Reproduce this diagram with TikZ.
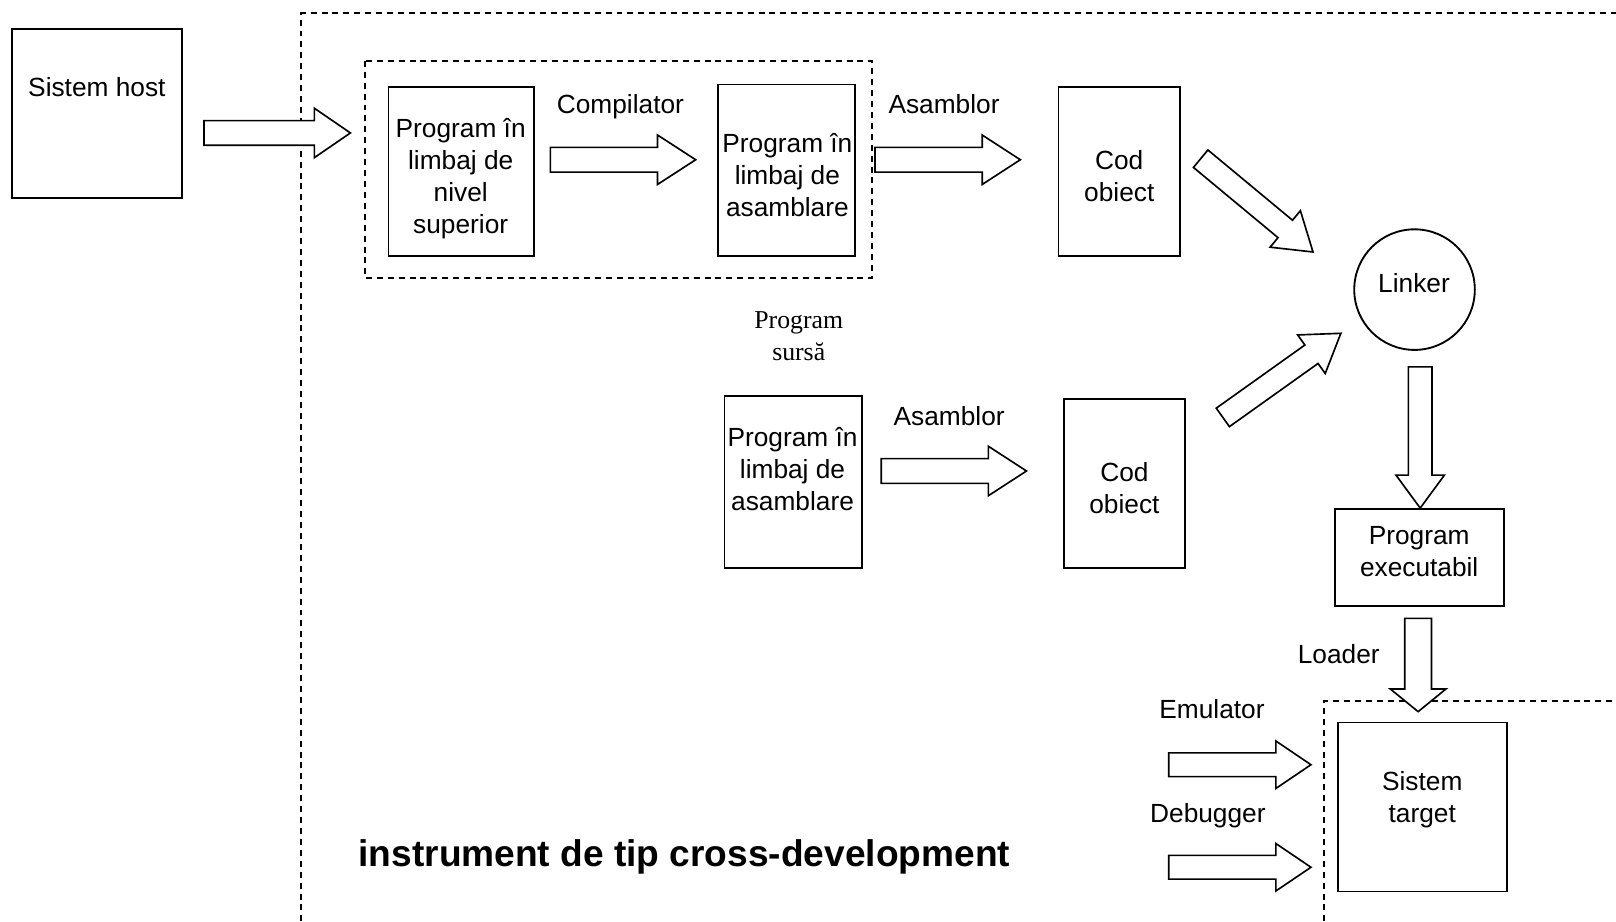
\documentclass[tikz,border=0pt]{standalone}
\usepackage{fontspec}
\setmainfont{Liberation Sans}
\newfontfamily\serifF{Liberation Serif}
\usetikzlibrary{calc}
\newcommand\barrow[5]{%
  \coordinate (hb) at ($(#2)!#5!(#1)$);
  \draw[blk] ($(#1)!#3!90:(#2)$) -- ($(hb)!#3!90:(#2)$) -- ($(hb)!#4!90:(#2)$) -- (#2)
    -- ($(hb)!#4!-90:(#2)$) -- ($(hb)!#3!-90:(#2)$) -- ($(#1)!#3!-90:(#2)$) -- cycle;
}
\tikzset{
  box/.style={draw, line width=1.8pt, inner sep=0pt},
  txt/.style={align=center, inner sep=0pt, font=\fontsize{25.5}{31}\selectfont},
  stxt/.style={align=center, inner sep=0pt, font=\serifF\fontsize{25}{31}\selectfont},
  blk/.style={draw, fill=white, line width=1.6pt, line join=miter},
  dsh/.style={line width=1.8pt, dash pattern=on 5.8pt off 4.8pt},
}
\begin{document}
\begin{tikzpicture}[x=1pt,y=-1pt]
\useasboundingbox (0,0) rectangle (1568,894);
% dashed frames
\draw[dsh] (292,894) -- (292,13) -- (1568,13);
\draw[dsh] (354,59) rectangle (846,270);
\draw[dsh] (1285,894) -- (1285,680) -- (1568,680);
% boxes
\node[box, minimum width=165pt, minimum height=164pt] (host) at (94.5,110) {};
\node[txt] (hostT) at (94,85) {Sistem host};
\node[box, minimum width=141pt, minimum height=164pt] (hl) at (447.5,166) {};
\node[txt] (hlT) at (447,173.5) {Program în\\limbaj de\\nivel\\superior};
\node[box, minimum width=133pt, minimum height=166pt] (asm1) at (763.5,165) {};
\node[txt] (asm1T) at (764,170) {Program în\\limbaj de\\asamblare};
\node[box, minimum width=118pt, minimum height=164pt] (cod1) at (1086,166) {};
\node[txt] (cod1T) at (1086,170.5) {Cod\\obiect};
\node[draw, circle, line width=1.8pt, minimum size=117pt, inner sep=0pt] (link) at (1372.5,281) {};
\node[txt] (linkT) at (1372,275) {Linker};
\node[stxt] (sursa) at (775,326.5) {Program\\sursă};
\node[box, minimum width=133pt, minimum height=167pt] (asm2) at (769.5,467.5) {};
\node[txt] (asm2T) at (769,455) {Program în\\limbaj de\\asamblare};
\node[box, minimum width=118pt, minimum height=164pt] (cod2) at (1091,469) {};
\node[txt] (cod2T) at (1091,473.5) {Cod\\obiect};
\node[box, minimum width=164pt, minimum height=94pt] (exe) at (1377,541) {};
\node[txt] (exeT) at (1377,535.5) {Program\\executabil};
\node[box, minimum width=164pt, minimum height=164pt] (tgt) at (1380,783) {};
\node[txt] (tgtT) at (1380,775.5) {Sistem\\target};
% labels
\node[txt] (lcomp) at (602,104) {Compilator};
\node[txt] (lasm1) at (916,101) {Asamblor};
\node[txt] (lasm2) at (921,404) {Asamblor};
\node[txt] (lload) at (1299,635) {Loader};
\node[txt] (lemu) at (1176,688) {Emulator};
\node[txt] (ldbg) at (1172,791) {Debugger};
\node[inner sep=0pt, font=\bfseries\fontsize{36}{40}\selectfont] (title) at (664,831) {instrument de tip cross-development};
% arrow end points
\coordinate (a0s) at (198,129);   \coordinate (a0t) at (340,129);
\coordinate (a1s) at (534,155);   \coordinate (a1t) at (675,155);
\coordinate (a2s) at (849,155);   \coordinate (a2t) at (990,155);
\coordinate (a3s) at (1165,154);  \coordinate (a3t) at (1274,244.5);
\coordinate (a4s) at (1186.5,405);\coordinate (a4t) at (1301,323.4);
\coordinate (a5s) at (855,457);   \coordinate (a5t) at (996,457);
\coordinate (a6s) at (1378,356);  \coordinate (a6t) at (1378,493);
\coordinate (a7s) at (1376,600);  \coordinate (a7t) at (1376,690.5);
\coordinate (a8s) at (1134,742);  \coordinate (a8t) at (1272,742);
\coordinate (a9s) at (1134,841.5);\coordinate (a9t) at (1272,841.5);
\barrow{a0s}{a0t}{12pt}{24pt}{35pt}
\barrow{a1s}{a1t}{12pt}{24pt}{37pt}
\barrow{a2s}{a2t}{12pt}{24pt}{37pt}
\barrow{a3s}{a3t}{11pt}{23pt}{35pt}
\barrow{a4s}{a4t}{11pt}{23pt}{35pt}
\barrow{a5s}{a5t}{12pt}{24pt}{37pt}
\barrow{a6s}{a6t}{11.5pt}{23.5pt}{32pt}
\barrow{a7s}{a7t}{13pt}{27pt}{22pt}
\barrow{a8s}{a8t}{11.5pt}{23pt}{34pt}
\barrow{a9s}{a9t}{11.5pt}{23pt}{34pt}
\end{tikzpicture}
\end{document}
